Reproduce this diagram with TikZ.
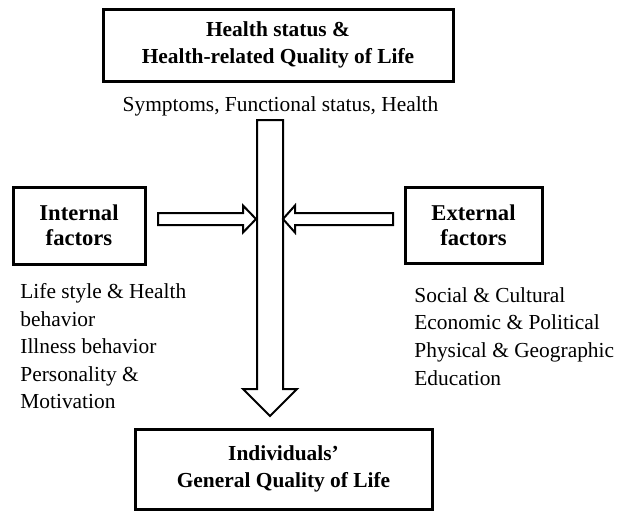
\documentclass[tikz,border=0pt]{standalone}
\usepackage{fontspec}
\setmainfont{Liberation Serif}
\usetikzlibrary{calc}

\begin{document}
\begin{tikzpicture}[x=0.5pt, y=-0.5pt,
  box/.style={draw, line width=1.5pt, align=center, inner sep=0pt, font=\fontsize{10.7}{13.5}\selectfont\bfseries},
  factor/.style={box, font=\fontsize{11.3}{12.5}\selectfont\bfseries},
  list/.style={align=left, inner sep=0pt, anchor=north west, font=\fontsize{10.7}{13.8}\selectfont},
  blockarrow/.style={draw, line width=1pt, fill=white, line join=miter}]
  \useasboundingbox (0,0) rectangle (625,511);
  % boxes
  \node[box, minimum width=175pt, minimum height=36pt] (hq) at (278,45) {Health status \&\\Health-related Quality of Life};
  \node[factor, minimum width=66pt, minimum height=38.5pt] (int) at (79,225.5) {Internal\\factors};
  \node[factor, minimum width=68.5pt, minimum height=38pt] (ext) at (473.5,225) {External\\factors};
  \node[box, minimum width=148.5pt, minimum height=40pt] (gq) at (283.5,469) {Individuals'\\General Quality of Life};
  % texts
  \node[list, anchor=base] (sym) at (280.5,111) {Symptoms, Functional status, Health};
  \node[list] (intlist) at (20,283) {Life style \& Health\\behavior\\Illness behavior\\Personality \&\\Motivation};
  \node[list] (extlist) at (414,287) {Social \& Cultural\\Economic \& Political\\Physical \& Geographic\\Education};
  % arrows
  \coordinate (vtop) at (270,120);
  \coordinate (vtip) at (270,416);
  \coordinate (ltail) at (158,219);
  \coordinate (ltip) at (256,219);
  \coordinate (rtail) at (393,219);
  \coordinate (rtip) at (283,219);
  \draw[blockarrow] ($(vtop)+(-13,0)$) -- ($(vtip)+(-13,-27)$) -- ($(vtip)+(-27,-27)$) -- (vtip)
    -- ($(vtip)+(27,-27)$) -- ($(vtip)+(13,-27)$) -- ($(vtop)+(13,0)$) -- cycle;
  \draw[blockarrow] ($(ltail)+(0,-6)$) -- ($(ltip)+(-13,-6)$) -- ($(ltip)+(-13,-13.5)$) -- (ltip)
    -- ($(ltip)+(-13,13.5)$) -- ($(ltip)+(-13,6)$) -- ($(ltail)+(0,6)$) -- cycle;
  \draw[blockarrow] ($(rtail)+(0,-6)$) -- ($(rtip)+(12,-6)$) -- ($(rtip)+(12,-13.5)$) -- (rtip)
    -- ($(rtip)+(12,13.5)$) -- ($(rtip)+(12,6)$) -- ($(rtail)+(0,6)$) -- cycle;
\end{tikzpicture}
\end{document}
